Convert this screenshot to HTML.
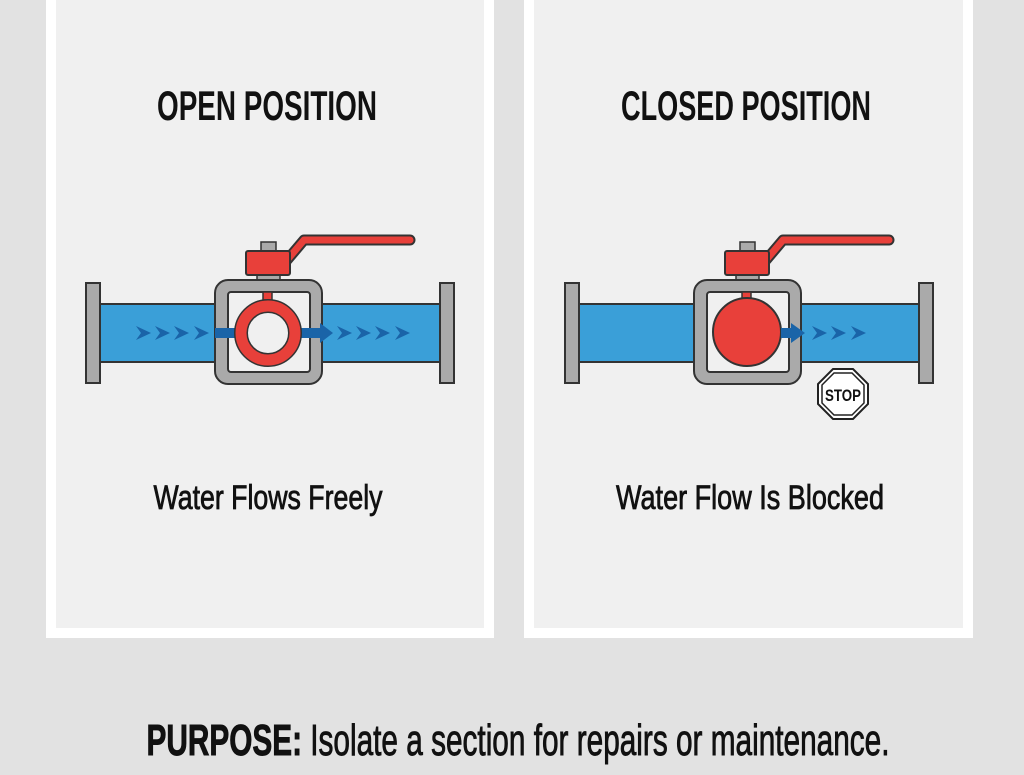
<!DOCTYPE html>
<html><head><meta charset="utf-8"><style>
html,body{margin:0;padding:0;background:#e2e2e2;}
svg{display:block}
text{font-family:"Liberation Sans Narrow","Liberation Sans",sans-serif;fill:#111;}
</style></head><body>
<svg width="1024" height="775" viewBox="0 0 1024 775" xmlns="http://www.w3.org/2000/svg">
<rect width="1024" height="775" fill="#e2e2e2"/>
<rect x="51" y="-5" width="438" height="638" fill="#f0f0f0" stroke="#fff" stroke-width="10"/>
<rect x="529" y="-5" width="439" height="638" fill="#f0f0f0" stroke="#fff" stroke-width="10"/>

<text x="267" y="120" font-size="42" font-weight="bold" text-anchor="middle" textLength="220" lengthAdjust="spacingAndGlyphs">OPEN POSITION</text>
<text x="746" y="120" font-size="42" font-weight="bold" text-anchor="middle" textLength="250" lengthAdjust="spacingAndGlyphs">CLOSED POSITION</text>
<text x="268" y="509" font-size="34" text-anchor="middle" stroke="#111" stroke-width="0.8" textLength="229" lengthAdjust="spacingAndGlyphs">Water Flows Freely</text>
<text x="750" y="509" font-size="34" text-anchor="middle" stroke="#111" stroke-width="0.8" textLength="268" lengthAdjust="spacingAndGlyphs">Water Flow Is Blocked</text>
<text x="518" y="755" font-size="44" text-anchor="middle" stroke="#111" stroke-width="0.9" textLength="743" lengthAdjust="spacingAndGlyphs"><tspan font-weight="bold">PURPOSE:</tspan> Isolate a section for repairs or maintenance.</text>

<defs>
<g id="valve">
  <rect x="100" y="304" width="116" height="58" fill="#3a9fd8" stroke="#333" stroke-width="2"/>
  <rect x="322" y="304" width="118" height="58" fill="#3a9fd8" stroke="#333" stroke-width="2"/>
  <rect x="86" y="283" width="14" height="100" fill="#aaa" stroke="#333" stroke-width="2"/>
  <rect x="440" y="283" width="14" height="100" fill="#aaa" stroke="#333" stroke-width="2"/>
  <path d="M282 266 L304 240 L410 240" fill="none" stroke="#333" stroke-width="11" stroke-linecap="round" stroke-linejoin="round"/>
  <path d="M282 266 L304 240 L410 240" fill="none" stroke="#e8403a" stroke-width="7" stroke-linecap="round" stroke-linejoin="round"/>
  <rect x="261" y="242" width="15" height="9" fill="#aaa" stroke="#333" stroke-width="1.5"/>
  <rect x="257" y="274" width="23" height="7" fill="#aaa" stroke="#333" stroke-width="1.5"/>
  <rect x="246" y="251" width="44" height="24" rx="2" fill="#e8403a" stroke="#333" stroke-width="2"/>
  <rect x="215" y="280" width="107" height="104" rx="13" fill="#aaa" stroke="#333" stroke-width="2"/>
  <rect x="228" y="292" width="82" height="80" rx="3" fill="#f0f0f0" stroke="#333" stroke-width="2"/>
  <rect x="263" y="292" width="9" height="9" fill="#e8403a" stroke="#333" stroke-width="1.5"/>
</g>
<g id="chev"><path d="M0 -7 L15 0 L0 7 L5 0 Z" fill="#1a64a8"/></g>
</defs>

<use href="#valve"/>
<use href="#chev" x="136" y="333"/><use href="#chev" x="155" y="333"/><use href="#chev" x="174" y="333"/><use href="#chev" x="194" y="333"/>
<rect x="215" y="328" width="22" height="10" fill="#1a64a8"/>
<rect x="298" y="328" width="24" height="10" fill="#1a64a8"/>
<path d="M320 323 L333 333 L320 343 Z" fill="#1a64a8"/>
<use href="#chev" x="337" y="333"/><use href="#chev" x="356" y="333"/><use href="#chev" x="375" y="333"/><use href="#chev" x="395" y="333"/>
<circle cx="268" cy="333" r="27" fill="none" stroke="#333" stroke-width="14"/>
<circle cx="268" cy="333" r="27" fill="none" stroke="#e8403a" stroke-width="11"/>

<use href="#valve" x="479"/>
<circle cx="747" cy="332" r="34" fill="#e8403a" stroke="#333" stroke-width="2"/>
<rect x="781" y="328" width="12" height="10" fill="#1a64a8"/>
<path d="M791 323 L805 333 L791 343 Z" fill="#1a64a8"/>
<use href="#chev" x="812" y="333"/><use href="#chev" x="831" y="333"/><use href="#chev" x="851" y="333"/>
<polygon points="833,369 853,369 868,384 868,404 853,419 833,419 818,404 818,384" fill="#fff" stroke="#222" stroke-width="2"/>
<polygon points="834,373 852,373 864,385 864,403 852,415 834,415 822,403 822,385" fill="none" stroke="#222" stroke-width="1.5"/>
<text x="843" y="401" font-size="17" font-weight="bold" text-anchor="middle" textLength="36" lengthAdjust="spacingAndGlyphs">STOP</text>
</svg>
</body></html>
